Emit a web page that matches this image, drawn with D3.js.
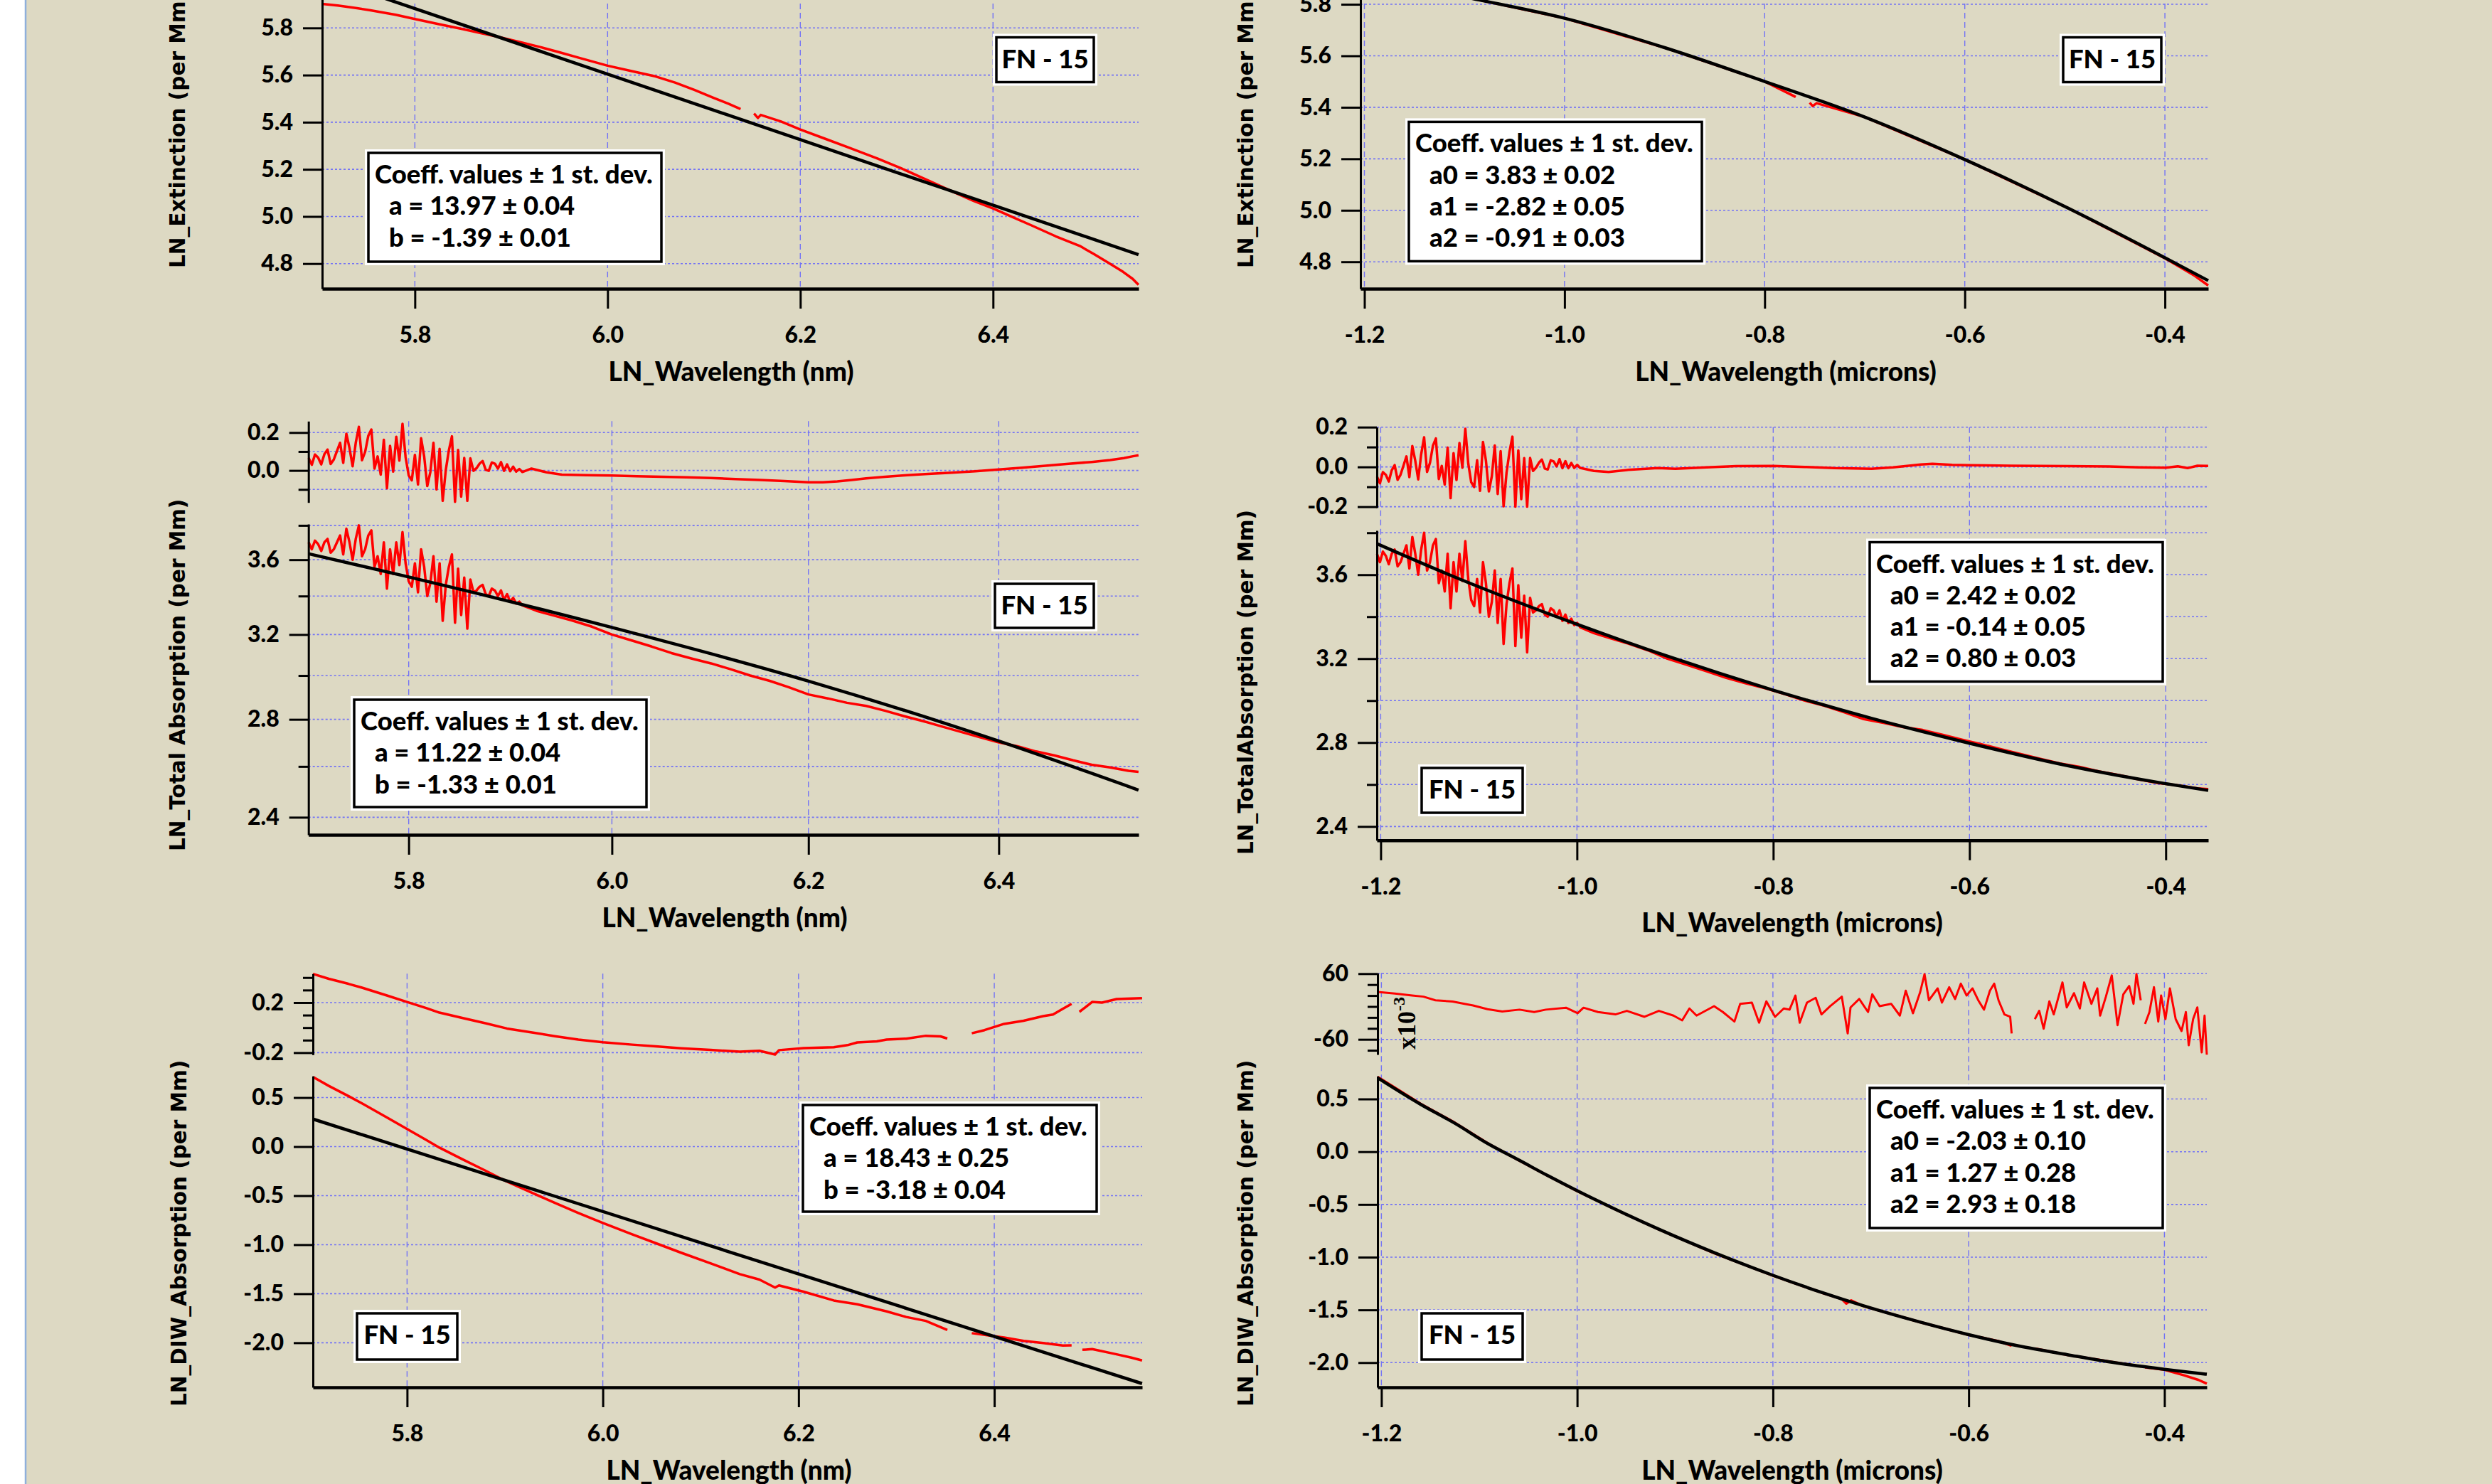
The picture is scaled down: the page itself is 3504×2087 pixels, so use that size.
<!DOCTYPE html>
<html lang="en">
<head>
<meta charset="UTF-8">
<title>FN-15 log fits</title>
<script src="https://d3js.org/d3.v7.min.js"></script>
<style>
  body { margin: 0; background: #fff; }
  svg text { font-weight: 700; fill: #000; }
</style>
</head>
<body>
<script>
// ---- data (x in ln(nm); microns panels use ln(um) = ln(nm) - ln(1000)) ----
const LN1000 = Math.log(1000);

// extinction, left panel
const extData = [[5.7038,5.902],[5.72,5.895],[5.74,5.884],[5.754,5.875],[5.78,5.856],[5.80,5.838],[5.825,5.816],[5.85,5.795],[5.87,5.777],[5.89,5.759],[5.91,5.739],[5.93,5.719],[5.95,5.697],[5.97,5.674],[6.00,5.640],[6.025,5.617],[6.05,5.594],[6.07,5.568],[6.09,5.537],[6.11,5.503],[6.125,5.479],[6.138,5.456],null,[6.152,5.437],[6.156,5.418],[6.159,5.431],[6.18,5.403],[6.20,5.369],[6.225,5.331],[6.25,5.293],[6.28,5.246],[6.306,5.202],[6.33,5.158],[6.36,5.102],[6.38,5.066],[6.40,5.034],[6.42,4.998],[6.44,4.962],[6.465,4.916],[6.49,4.875],[6.505,4.840],[6.52,4.803],[6.535,4.765],[6.545,4.735],[6.551,4.710]];
const extLinFit = [[5.7038,6.016],[6.551,4.838]];
// extinction, microns panel (ln um)
const extUmData = [[-1.2038,5.904],[-1.15,5.868],[-1.0855,5.817],[-1.0,5.746],[-0.8977,5.629],[-0.8,5.500],[-0.775,5.452],[-0.769,5.440],null,[-0.755,5.418],[-0.752,5.405],[-0.748,5.416],[-0.7,5.362],[-0.6,5.197],[-0.497,5.009],[-0.4,4.814],[-0.37,4.745],[-0.3567,4.708]];
const extQuadFit = [[-1.2038,5.904],[-1.15,5.868],[-1.0855,5.817],[-1.0,5.746],[-0.8977,5.629],[-0.8,5.500],[-0.7,5.362],[-0.6,5.197],[-0.497,5.009],[-0.4,4.816],[-0.3567,4.727]];

// total absorption (both middle panels)
const absData = [[5.704,3.70],[5.707,3.66],[5.710,3.71],[5.713,3.69],[5.716,3.65],[5.719,3.70],[5.722,3.72],[5.725,3.64],[5.728,3.66],[5.731,3.70],
[5.734,3.74],[5.737,3.63],[5.740,3.78],[5.743,3.70],[5.746,3.60],[5.749,3.72],[5.752,3.80],[5.755,3.62],[5.758,3.66],[5.761,3.74],[5.764,3.77],[5.767,3.56],[5.770,3.62],[5.773,3.52],[5.776,3.70],[5.779,3.44],[5.782,3.66],
[5.785,3.52],[5.788,3.70],[5.791,3.57],[5.794,3.76],[5.797,3.58],[5.800,3.48],[5.803,3.45],[5.806,3.58],[5.809,3.42],[5.812,3.66],[5.815,3.56],[5.818,3.40],[5.821,3.47],[5.824,3.62],[5.827,3.37],[5.830,3.58],[5.833,3.27],[5.836,3.46],[5.839,3.56],[5.842,3.63],[5.845,3.26],[5.848,3.55],[5.851,3.30],[5.854,3.50],[5.857,3.23],
[5.860,3.49],[5.863,3.42],[5.866,3.43],[5.869,3.45],[5.872,3.46],[5.875,3.41],[5.878,3.40],[5.881,3.44],[5.884,3.43],[5.887,3.40],[5.890,3.43],[5.893,3.38],[5.896,3.41],[5.899,3.37],[5.902,3.39],[5.905,3.36],[5.908,3.37],[5.911,3.35],
[5.925,3.322],[5.94,3.300],[5.96,3.272],[5.98,3.240],[6.00,3.200],[6.02,3.170],[6.04,3.140],[6.06,3.108],[6.08,3.082],[6.10,3.058],[6.12,3.030],[6.14,3.000],[6.16,2.975],[6.18,2.945],[6.20,2.912],[6.22,2.894],[6.24,2.874],[6.26,2.860],[6.28,2.838],[6.30,2.814],[6.32,2.792],[6.34,2.768],[6.36,2.745],[6.38,2.722],[6.40,2.700],[6.42,2.684],[6.44,2.662],[6.46,2.645],[6.48,2.625],[6.50,2.607],[6.52,2.596],[6.54,2.582],[6.551,2.578]];
const absLinFit = [[5.7038,3.634],[5.8,3.504],[6.0,3.236],[6.2,2.974],[6.4,2.706],[6.551,2.505]];
const absQuadFit = [[-1.2038,3.748],[-1.125,3.59],[-1.0,3.364],[-0.908,3.212],[-0.8,3.050],[-0.7,2.916],[-0.6,2.797],[-0.5,2.690],[-0.4,2.604],[-0.3567,2.572]];
const absResLin = [[5.704,0.066],[5.707,0.030],[5.710,0.084],[5.713,0.068],[5.716,0.032],[5.719,0.086],[5.722,0.110],[5.725,0.034],[5.728,0.058],[5.731,0.102],
[5.734,0.146],[5.737,0.040],[5.740,0.194],[5.743,0.118],[5.746,0.022],[5.749,0.146],[5.752,0.230],[5.755,0.054],[5.758,0.098],[5.761,0.182],[5.764,0.216],[5.767,0.010],[5.770,0.074],[5.773,-0.022],[5.776,0.162],[5.779,-0.094],[5.782,0.130],
[5.785,-0.006],[5.788,0.178],[5.791,0.052],[5.794,0.246],[5.797,0.070],[5.800,-0.026],[5.803,-0.052],[5.806,0.082],[5.809,-0.074],[5.812,0.170],[5.815,0.074],[5.818,-0.082],[5.821,-0.008],[5.824,0.146],[5.827,-0.100],[5.830,0.114],[5.833,-0.160],[5.836,0.002],[5.839,0.106],[5.842,0.180],[5.845,-0.165],[5.848,0.108],[5.851,-0.138],[5.854,0.066],[5.857,-0.160],
[5.860,0.064],[5.863,-0.002],[5.866,0.012],[5.869,0.036],[5.872,0.050],[5.875,0.004],[5.878,-0.002],[5.881,0.042],[5.884,0.036],[5.887,0.010],[5.890,0.044],[5.893,-0.002],[5.896,0.032],[5.899,-0.004],[5.902,0.020],[5.905,-0.006],[5.908,0.008],[5.911,-0.008],
[5.92,0.01],[5.935,-0.01],[5.95,-0.022],[5.975,-0.025],[6.0,-0.027],[6.025,-0.03],[6.05,-0.033],[6.075,-0.036],[6.1,-0.04],[6.125,-0.045],[6.15,-0.05],[6.175,-0.056],[6.2,-0.062],[6.215,-0.062],[6.23,-0.058],[6.245,-0.05],[6.26,-0.042],[6.28,-0.033],[6.3,-0.026],[6.325,-0.018],[6.35,-0.012],[6.375,-0.004],[6.4,0.005],[6.425,0.015],[6.45,0.025],[6.475,0.035],[6.5,0.045],[6.52,0.055],[6.535,0.065],[6.545,0.075],[6.551,0.08]];
const absResQuad = [[5.704,-0.048],[5.707,-0.082],[5.710,-0.026],[5.713,-0.040],[5.716,-0.073],[5.719,-0.017],[5.722,0.009],[5.725,-0.065],[5.728,-0.039],[5.731,0.007],
[5.734,0.053],[5.737,-0.051],[5.740,0.105],[5.743,0.031],[5.746,-0.063],[5.749,0.063],[5.752,0.149],[5.755,-0.025],[5.758,0.021],[5.761,0.107],[5.764,0.143],[5.767,-0.061],[5.770,0.005],[5.773,-0.089],[5.776,0.097],[5.779,-0.157],[5.782,0.069],
[5.785,-0.066],[5.788,0.120],[5.791,-0.004],[5.794,0.192],[5.797,0.017],[5.800,-0.077],[5.803,-0.101],[5.806,0.034],[5.809,-0.120],[5.812,0.126],[5.815,0.032],[5.818,-0.123],[5.821,-0.047],[5.824,0.108],[5.827,-0.136],[5.830,0.079],[5.833,-0.198],[5.836,-0.029],[5.839,0.076],[5.842,0.152],[5.845,-0.200],[5.848,0.083],[5.851,-0.162],[5.854,0.044],[5.857,-0.200],
[5.860,0.045],[5.863,-0.020],[5.866,-0.004],[5.869,0.021],[5.872,0.037],[5.875,-0.008],[5.878,-0.013],[5.881,0.033],[5.884,0.028],[5.887,0.003],[5.890,0.039],[5.893,-0.006],[5.896,0.029],[5.899,-0.006],[5.902,0.020],[5.905,-0.005],[5.908,0.010],[5.911,-0.005],
[5.925,-0.02],[5.94,-0.025],[5.96,-0.015],[5.99,-0.006],[6.008,-0.009],[6.04,-0.002],[6.07,0.004],[6.108,0.005],[6.14,0.0],[6.17,-0.006],[6.208,-0.009],[6.23,-0.002],[6.258,0.012],[6.27,0.016],[6.29,0.01],[6.308,0.009],[6.35,0.006],[6.408,0.004],[6.45,0.002],[6.48,-0.002],[6.508,-0.004],[6.52,0.003],[6.53,-0.006],[6.54,0.006],[6.551,0.005]];

// DIW absorption
const diwData = [[5.7038,0.710],[5.72,0.619],[5.74,0.516],[5.754,0.440],[5.78,0.293],[5.80,0.180],[5.82,0.066],[5.833,-0.010],[5.857,-0.131],[5.88,-0.245],[5.902,-0.357],[5.93,-0.481],[5.951,-0.574],[5.975,-0.677],[6.0,-0.779],[6.03,-0.894],[6.054,-0.984],[6.08,-1.082],[6.11,-1.19],[6.14,-1.30],[6.16,-1.356],[6.176,-1.437],[6.18,-1.415],[6.205,-1.479],[6.236,-1.569],[6.26,-1.608],[6.29,-1.68],[6.31,-1.737],[6.33,-1.777],[6.352,-1.869],null,[6.377,-1.902],[6.41,-1.947],[6.43,-1.981],[6.45,-2.002],[6.47,-2.028],[6.479,-2.027],null,[6.49,-2.072],[6.50,-2.064],[6.525,-2.118],[6.54,-2.151],[6.551,-2.18]];
const diwLinFit = [[5.7038,0.281],[6.551,-2.416]];
const diwResLin = [[5.7038,0.429],[5.72,0.39],[5.74,0.35],[5.754,0.319],[5.78,0.255],[5.80,0.205],[5.82,0.155],[5.833,0.12],[5.857,0.076],[5.88,0.035],[5.902,-0.007],[5.93,-0.042],[5.951,-0.068],[5.975,-0.095],[6.0,-0.117],[6.03,-0.136],[6.054,-0.15],[6.08,-0.165],[6.11,-0.178],[6.14,-0.192],[6.16,-0.185],[6.176,-0.215],[6.18,-0.18],[6.205,-0.164],[6.236,-0.156],[6.25,-0.14],[6.26,-0.118],[6.28,-0.11],[6.29,-0.095],[6.31,-0.088],[6.33,-0.065],[6.345,-0.07],[6.352,-0.087],null,[6.377,-0.045],[6.39,-0.02],[6.41,0.03],[6.43,0.055],[6.45,0.092],[6.46,0.105],[6.47,0.15],[6.479,0.19],null,[6.487,0.126],[6.50,0.205],[6.51,0.2],[6.525,0.228],[6.54,0.232],[6.551,0.236]];
const diwUmData = [[-1.2038,0.71],[-1.16,0.455],[-1.125,0.275],[-1.09,0.072],[-1.059,-0.085],[-1.03,-0.228],[-1.0,-0.372],[-0.96,-0.552],[-0.917,-0.735],[-0.86,-0.962],[-0.8,-1.174],[-0.75,-1.337],[-0.73,-1.395],[-0.725,-1.44],[-0.72,-1.41],[-0.708,-1.462],[-0.65,-1.615],[-0.6,-1.737],[-0.57,-1.795],[-0.5561,-1.84],null,[-0.5324,-1.866],[-0.499,-1.927],[-0.47,-1.97],[-0.45,-2.0],[-0.4242,-2.035],null,[-0.4198,-2.045],[-0.4,-2.068],[-0.38,-2.12],[-0.365,-2.165],[-0.3567,-2.2]];
const diwQuadFit = [[-1.2038,0.70],[-1.16,0.45],[-1.125,0.27],[-1.09,0.07],[-1.059,-0.082],[-1.03,-0.227],[-1.0,-0.37],[-0.96,-0.55],[-0.917,-0.733],[-0.86,-0.957],[-0.8,-1.172],[-0.75,-1.335],[-0.708,-1.46],[-0.65,-1.615],[-0.6,-1.735],[-0.55,-1.84],[-0.499,-1.925],[-0.45,-2.002],[-0.4,-2.064],[-0.3567,-2.11]];
// residual of quadratic DIW fit, x10^-3
const diwResQuad = [[-1.2038,26.6],[-1.1863,23.6],[-1.1686,20.1],[-1.157,18],[-1.1448,11.4],[-1.1272,9.2],[-1.1151,4.9],[-1.1063,1.9],[-1.0916,-4.9],[-1.0765,-9.2],[-1.0589,-5.7],[-1.0439,-10.1],[-1.032,-5.7],[-1.0114,-2.2],[-0.9995,-12.3],[-0.9935,-2.2],[-0.9787,-10.1],[-0.9609,-14.4],[-0.9492,-7.9],[-0.9312,-18.8],[-0.9165,-7.9],[-0.9016,-16.6],[-0.8927,-25.3],[-0.8853,-3.6],[-0.878,-16.6],[-0.8601,0.7],[-0.8511,-10.1],[-0.8393,-27.5],[-0.8334,5.0],[-0.8215,7.2],[-0.8141,-29.6],[-0.8067,9.4],[-0.7978,-18.8],[-0.7889,-3.6],[-0.783,-5.7],[-0.777,20.1],[-0.7726,-29.6],[-0.7652,7.2],[-0.7563,15.9],[-0.7504,-14.4],[-0.7414,0.7],[-0.7296,18],[-0.7236,-49.1],[-0.7207,-1.6],[-0.7118,13.7],[-0.7028,-10.1],[-0.6985,22.3],[-0.691,0.7],[-0.6792,4.9],[-0.6703,-16.6],[-0.6643,28.8],[-0.6569,-12.3],[-0.6495,26.6],[-0.6451,59.1],[-0.6406,11.4],[-0.6317,33.1],[-0.6273,7.2],[-0.6199,35.3],[-0.6139,13.7],[-0.608,41.8],[-0.6021,20.1],[-0.5961,33.1],[-0.5902,11.4],[-0.5843,-5.7],[-0.5783,28.8],[-0.5739,41.8],[-0.5695,11.4],[-0.5635,-14.4],[-0.5576,-18.8],[-0.5561,-49.1],null,[-0.5324,-23.1],[-0.5279,-7.9],[-0.5234,-40.5],[-0.5176,9.4],[-0.5131,-14.4],[-0.5042,44.0],[-0.4998,-1.6],[-0.4924,24.4],[-0.4864,-3.6],[-0.482,44.0],[-0.4746,4.9],[-0.4686,33.1],[-0.4657,-16.6],[-0.4598,18.0],[-0.4538,56.9],[-0.4479,-34.0],[-0.442,22.3],[-0.436,37.5],[-0.4316,4.9],[-0.4286,59.1],[-0.4242,11.4],null,[-0.4198,-31.9],[-0.4153,-10.1],[-0.4107,35.3],[-0.4063,-27.5],[-0.4034,20.1],[-0.399,-23.1],[-0.3944,33.1],[-0.3885,-23.1],[-0.3825,-44.8],[-0.3781,-10.1],[-0.3752,-70.8],[-0.3707,-23.1],[-0.3664,-1.6],[-0.3619,-83.8],[-0.359,-16.6],[-0.3567,-88]];

// tick values
const nmTicks = [5.8, 6.0, 6.2, 6.4];
const umTicks = [-1.2, -1.0, -0.8, -0.6, -0.4];
const extTicks = [4.8, 5.0, 5.2, 5.4, 5.6, 5.8];
const absMajor = [2.4, 2.8, 3.2, 3.6], absMinor = [2.6, 3.0, 3.4, 3.8];
const diwTicks = [-2.0, -1.5, -1.0, -0.5, 0.0, 0.5];

// annotation text
const coeffHead = "Coeff. values \u00b1 1 st. dev.";
const extLinCoef = ["a = 13.97 \u00b1 0.04", "b = -1.39 \u00b1 0.01"];
const extQuadCoef = ["a0 = 3.83 \u00b1 0.02", "a1 = -2.82 \u00b1 0.05", "a2 = -0.91 \u00b1 0.03"];
const absLinCoef = ["a = 11.22 \u00b1 0.04", "b = -1.33 \u00b1 0.01"];
const absQuadCoef = ["a0 = 2.42 \u00b1 0.02", "a1 = -0.14 \u00b1 0.05", "a2 = 0.80 \u00b1 0.03"];
const diwLinCoef = ["a = 18.43 \u00b1 0.25", "b = -3.18 \u00b1 0.04"];
const diwQuadCoef = ["a0 = -2.03 \u00b1 0.10", "a1 = 1.27 \u00b1 0.28", "a2 = 2.93 \u00b1 0.18"];
const sampleName = "FN - 15";

// ---- drawing ----
const W = 3504, H = 2087;
const GRID = "#7373f5", RED = "#ff0000";
const SANS = "Lato, 'Open Sans', sans-serif";
const WIDE = "'DejaVu Sans', Verdana, sans-serif";
const TICK_FONT = 32, BOX_FONT = 36.5, XT_FONT = 37, YT_FONT = 29.5;
const HEAVY = 900;

const svg = d3.select("body").append("svg").attr("width", W).attr("height", H);
svg.append("rect").attr("width", W).attr("height", H).attr("fill", "#fff");
svg.append("rect").attr("x", 37).attr("width", W - 37).attr("height", H).attr("fill", "#ddd9c3");
svg.append("line").attr("x1", 36).attr("x2", 36).attr("y1", 0).attr("y2", H)
  .attr("stroke", "#8fb0dc").attr("stroke-width", 2.5);

const fmt1 = v => (Math.abs(v) < 1e-9 ? 0 : v).toFixed(1);
const fmt0 = v => v.toFixed(0);

function panel(cfg) {
  const g = svg.append("g");
  const x = cfg.x;
  const [x0, x1] = x.range();
  const gGrid = g.append("g"), gData = g.append("g"), gAxes = g.append("g");

  // vertical grid through all sub plots
  gGrid.selectAll(".vg").data(cfg.xTicks).join("line")
    .attr("x1", d => x(d)).attr("x2", d => x(d))
    .attr("y1", cfg.gridTop).attr("y2", cfg.xAxisY)
    .attr("stroke", GRID).attr("stroke-width", 1.4).attr("stroke-dasharray", "8,5");

  cfg.subs.forEach(s => {
    const y = s.y;
    gGrid.selectAll(null).data(s.grid).join("line")
      .attr("x1", x0).attr("x2", x1).attr("y1", d => y(d)).attr("y2", d => y(d))
      .attr("stroke", GRID).attr("stroke-width", 1.6).attr("stroke-dasharray", "3,3");

    s.series.forEach(se => {
      const line = d3.line().defined(d => d !== null)
        .x(d => x(d[0] - (se.shift || 0))).y(d => y(d[1]))
        .curve(se.smooth ? d3.curveMonotoneX : d3.curveLinear);
      gData.append("path").attr("d", line(se.data)).attr("fill", "none")
        .attr("stroke", se.color).attr("stroke-width", se.width)
        .attr("stroke-linejoin", "round");
    });

    const ax = gAxes.append("g").attr("transform", `translate(${x0},0)`);
    ax.call(d3.axisLeft(y).tickValues(s.major).tickSize(27).tickSizeOuter(0)
      .tickPadding(14).tickFormat(s.fmt || fmt1));
    if (s.minor) {
      ax.append("g").call(d3.axisLeft(y).tickValues(s.minor).tickSize(14)
        .tickSizeOuter(0).tickFormat(""))
        .select(".domain").remove();
    }
    ax.selectAll("path.domain").attr("stroke-width", 3);
  });

  const axb = gAxes.append("g").attr("transform", `translate(0,${cfg.xAxisY})`)
    .call(d3.axisBottom(x).tickValues(cfg.xTicks).tickSize(28).tickSizeOuter(0)
      .tickPadding(25).tickFormat(fmt1));
  axb.select(".domain").attr("stroke-width", 4.5);

  gAxes.selectAll(".tick line").attr("stroke-width", 3);
  gAxes.selectAll(".tick text").style("font-size", TICK_FONT + "px")
    .style("font-family", SANS).style("font-weight", HEAVY);

  g.append("text").attr("x", cfg.xTitle[0]).attr("y", cfg.xTitle[1])
    .attr("text-anchor", "middle").style("font-family", SANS)
    .style("font-weight", HEAVY).style("font-size", XT_FONT + "px").text(cfg.xLabel);
  g.append("text")
    .attr("transform", `translate(${cfg.yTitle[0]},${cfg.yTitle[1]}) rotate(-90)`)
    .style("font-family", WIDE).style("font-size", YT_FONT + "px").text(cfg.yLabel);

  cfg.boxes.forEach(b => box(b));
  return g;
}

function box(b) {
  const g = svg.append("g").attr("transform", `translate(${b.x},${b.y})`);
  g.append("rect").attr("width", b.w).attr("height", b.h).attr("fill", "#fff");
  g.append("rect").attr("x", 5).attr("y", 5).attr("width", b.w - 10).attr("height", b.h - 10)
    .attr("fill", "#fff").attr("stroke", "#000").attr("stroke-width", 3.5);
  if (b.center) {
    g.append("text").attr("x", b.w / 2).attr("y", 48).attr("text-anchor", "middle")
      .style("font-family", SANS).style("font-weight", HEAVY)
      .style("font-size", BOX_FONT + "px").text(b.lines[0]);
  } else {
    b.lines.forEach((t, i) => {
      g.append("text").attr("x", i === 0 ? 14 : 34).attr("y", 48 + i * 44.3)
        .style("font-family", SANS).style("font-weight", HEAVY)
        .style("font-size", BOX_FONT + "px").text(t);
    });
  }
}

// scales
const nmDom = [5.7038, 6.5511], umDom = [-1.2039, -0.3567];
const xTL = d3.scaleLinear().domain(nmDom).range([453, 1601]);
const xML = d3.scaleLog().domain(nmDom).range([433.7, 1601]);
const xBL = d3.scaleLinear().domain(nmDom).range([440, 1606]);
const xTR = d3.scaleLinear().domain(umDom).range([1913, 3105]);
const xMR = d3.scaleLinear().domain(umDom).range([1936, 3105]);
const xBR = d3.scaleLinear().domain(umDom).range([1937, 3103]);

// top left
panel({
  x: xTL, xTicks: nmTicks, xAxisY: 406, gridTop: -60,
  xLabel: "LN_Wavelength (nm)", xTitle: [1028, 536],
  yLabel: "LN_Extinction (per Mm)", yTitle: [260, 377],
  subs: [{ y: d3.scaleLinear().domain([4.6935, 6.0695]).range([406, -50]),
    major: extTicks, grid: extTicks.concat([6.0]),
    series: [{ data: extData, color: RED, width: 3.5 },
             { data: extLinFit, color: "#000", width: 4.5 }] }],
  boxes: [{ x: 1396, y: 47.5, w: 147, h: 73, center: true, lines: [sampleName] },
          { x: 513, y: 210, w: 422, h: 163, lines: [coeffHead, ...extLinCoef] }]
});

// top right
panel({
  x: xTR, xTicks: umTicks, xAxisY: 406, gridTop: -60,
  xLabel: "LN_Wavelength (microns)", xTitle: [2511, 536],
  yLabel: "LN_Extinction (per Mm)", yTitle: [1762, 377],
  subs: [{ y: d3.scaleLinear().domain([4.6956, 5.9548]).range([406, -50]),
    major: extTicks, grid: extTicks,
    series: [{ data: extUmData, color: RED, width: 3.5 },
             { data: extQuadFit, color: "#000", width: 4.5, smooth: true }] }],
  boxes: [{ x: 2896, y: 47.5, w: 148, h: 73, center: true, lines: [sampleName] },
          { x: 1976, y: 166.4, w: 422, h: 206, lines: [coeffHead, ...extQuadCoef] }]
});

// middle left (log axes)
panel({
  x: xML, xTicks: nmTicks, xAxisY: 1174, gridTop: 592.3,
  xLabel: "LN_Wavelength (nm)", xTitle: [1019, 1304],
  yLabel: "LN_Total Absorption (per Mm)", yTitle: [260, 1197],
  subs: [
    { y: d3.scaleLinear().domain([-0.169, 0.26]).range([706.7, 592.3]),
      major: [0.0, 0.2], minor: [-0.1, 0.1], grid: [-0.1, 0.0, 0.1, 0.2],
      series: [{ data: absResLin, color: RED, width: 3.5 }] },
    { y: d3.scaleLog().domain([2.3347, 3.808]).range([1174, 737]),
      major: absMajor, minor: absMinor, grid: absMajor.concat(absMinor),
      series: [{ data: absData, color: RED, width: 3.5 },
               { data: absLinFit, color: "#000", width: 4.5, smooth: true }] }
  ],
  boxes: [{ x: 1394, y: 816, w: 149, h: 72, center: true, lines: [sampleName] },
          { x: 493, y: 979, w: 421, h: 161, lines: [coeffHead, ...absLinCoef] }]
});

// middle right
panel({
  x: xMR, xTicks: umTicks, xAxisY: 1181.8, gridTop: 600.7,
  xLabel: "LN_Wavelength (microns)", xTitle: [2520, 1311],
  yLabel: "LN_TotalAbsorption (per Mm)", yTitle: [1762, 1202],
  subs: [
    { y: d3.scaleLinear().domain([-0.205, 0.2]).range([714, 600.7]),
      major: [-0.2, 0.0, 0.2], minor: [-0.1, 0.1], grid: [-0.2, -0.1, 0.0, 0.1, 0.2],
      series: [{ data: absResQuad, color: RED, width: 3.5, shift: LN1000 }] },
    { y: d3.scaleLinear().domain([2.334, 3.811]).range([1181.8, 746]),
      major: absMajor, minor: absMinor, grid: absMajor.concat(absMinor),
      series: [{ data: absData, color: RED, width: 3.5, shift: LN1000 },
               { data: absQuadFit, color: "#000", width: 4.5, smooth: true }] }
  ],
  boxes: [{ x: 1994, y: 1075, w: 152, h: 73, center: true, lines: [sampleName] },
          { x: 2624, y: 757.5, w: 422, h: 206, lines: [coeffHead, ...absQuadCoef] }]
});

// bottom left
panel({
  x: xBL, xTicks: nmTicks, xAxisY: 1951, gridTop: 1369.3,
  xLabel: "LN_Wavelength (nm)", xTitle: [1025, 2081],
  yLabel: "LN_DIW_Absorption (per Mm)", yTitle: [262, 1978],
  subs: [
    { y: d3.scaleLinear().domain([-0.2165, 0.431]).range([1483.3, 1369.3]),
      major: [-0.2, 0.2], minor: [-0.1, 0.0, 0.1, 0.3, 0.4], grid: [-0.2, 0.2],
      series: [{ data: diwResLin, color: RED, width: 3.5 }] },
    { y: d3.scaleLinear().domain([-2.454, 0.72]).range([1951, 1513.2]),
      major: diwTicks, grid: diwTicks,
      series: [{ data: diwData, color: RED, width: 3.5 },
               { data: diwLinFit, color: "#000", width: 4.5 }] }
  ],
  boxes: [{ x: 497, y: 1842, w: 151, h: 75, center: true, lines: [sampleName] },
          { x: 1124, y: 1549, w: 423, h: 160, lines: [coeffHead, ...diwLinCoef] }]
});

// bottom right
const gBR = panel({
  x: xBR, xTicks: umTicks, xAxisY: 1951, gridTop: 1368.3,
  xLabel: "LN_Wavelength (microns)", xTitle: [2520, 2081],
  yLabel: "LN_DIW_Absorption (per Mm)", yTitle: [1762, 1978],
  subs: [
    { y: d3.scaleLinear().domain([-87.7, 61.3]).range([1483, 1368.3]),
      major: [-60, 60], minor: [-80, -40, -20, 0, 20, 40], grid: [-60, 60], fmt: fmt0,
      series: [{ data: diwResQuad, color: RED, width: 3 }] },
    { y: d3.scaleLinear().domain([-2.234, 0.718]).range([1951, 1513.2]),
      major: diwTicks, grid: diwTicks,
      series: [{ data: diwUmData, color: RED, width: 3.5 },
               { data: diwQuadFit, color: "#000", width: 4.5, smooth: true }] }
  ],
  boxes: [{ x: 1994, y: 1842, w: 152, h: 75, center: true, lines: [sampleName] },
          { x: 2624, y: 1525, w: 422, h: 207, lines: [coeffHead, ...diwQuadCoef] }]
});

// exponent label of the residual axis
const expo = gBR.append("text")
  .attr("transform", "translate(1990,1476) rotate(-90)")
  .style("font-family", "'Liberation Serif', 'DejaVu Serif', serif").style("font-size", "36px");
expo.append("tspan").text("x10");
expo.append("tspan").attr("dy", -15).style("font-size", "24px").text("-3");
</script>
</body>
</html>
